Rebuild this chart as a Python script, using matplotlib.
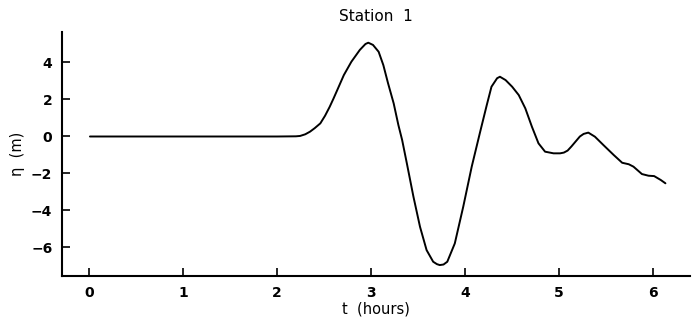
import matplotlib
matplotlib.use("Agg")
import matplotlib.pyplot as plt

# Surface elevation record at station 1
t_hours = [0.01, 0.5, 1.0, 1.5, 2.0, 2.20, 2.245, 2.30, 2.35, 2.40, 2.46,
           2.51, 2.56, 2.60, 2.64, 2.71, 2.79, 2.88, 2.94, 2.97, 3.02, 3.08,
           3.13, 3.18, 3.24, 3.29, 3.33, 3.38, 3.45, 3.52, 3.59, 3.66, 3.70,
           3.73, 3.77, 3.81, 3.89, 3.98, 4.07, 4.16, 4.23, 4.28, 4.34,
           4.37, 4.43, 4.50, 4.57, 4.64, 4.71, 4.78, 4.85, 4.94, 5.01, 5.05,
           5.09, 5.13, 5.17, 5.22, 5.26, 5.31, 5.38, 5.47, 5.58, 5.67, 5.74,
           5.79, 5.88, 5.95, 6.01, 6.08, 6.13]
eta_m = [0.0, 0.0, 0.0, 0.0, 0.0, 0.01, 0.03, 0.12, 0.26, 0.45, 0.71,
         1.12, 1.61, 2.05, 2.51, 3.32, 4.04, 4.68, 5.00, 5.07, 4.95, 4.58,
         3.86, 2.88, 1.79, 0.62, -0.19, -1.45, -3.25, -4.88, -6.14, -6.77,
         -6.90, -6.95, -6.92, -6.77, -5.78, -3.79, -1.63, 0.26, 1.70,
         2.69, 3.15, 3.23, 3.05, 2.69, 2.24, 1.52, 0.53, -0.37, -0.82, -0.91,
         -0.91, -0.87, -0.76, -0.54, -0.30, 0.00, 0.14, 0.21, -0.01, -0.46,
         -1.00, -1.42, -1.50, -1.63, -2.03, -2.12, -2.14, -2.35, -2.53]

x_ticks = [0, 1, 2, 3, 4, 5, 6]
y_ticks = [-6, -4, -2, 0, 2, 4]

fig = plt.figure(figsize=(6.93, 3.22), dpi=100)
ax = fig.add_axes([0.0895, 0.1429, 0.906, 0.7578])

ax.plot(t_hours, eta_m, color="black", linewidth=1.4,
        solid_joinstyle="round", solid_capstyle="round")

ax.set_xlim(-0.287, 6.39)
ax.set_ylim(-7.54, 5.65)
ax.set_xticks(x_ticks)
ax.set_yticks(y_ticks)
ax.set_yticklabels([str(v).replace("-", "\u2212") for v in y_ticks])

for side in ("top", "right"):
    ax.spines[side].set_visible(False)
for side in ("left", "bottom"):
    ax.spines[side].set_linewidth(1.5)

ax.tick_params(direction="in", length=6, width=1.2, labelsize=10, pad=7)
for lab in ax.get_xticklabels() + ax.get_yticklabels():
    lab.set_fontweight("bold")

ax.set_title("Station  1", fontsize=11, pad=8)
ax.set_xlabel("t  (hours)", fontsize=10.5, labelpad=1)
ax.set_ylabel("\u03b7  (m)", fontsize=10.5, labelpad=4)

fig.savefig("out.png", dpi=100)
